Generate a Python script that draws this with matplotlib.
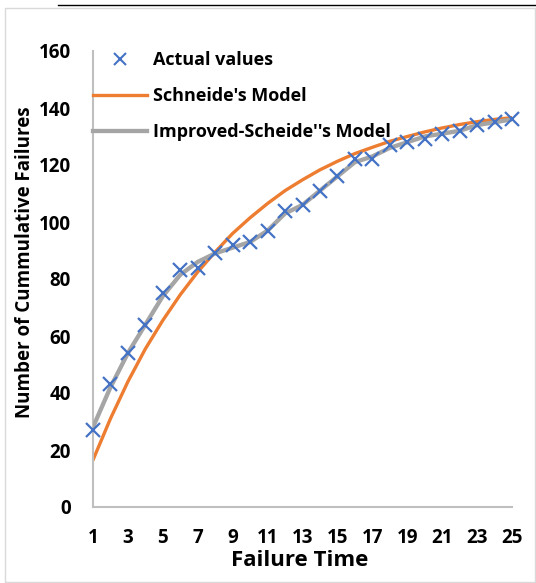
import matplotlib
matplotlib.use("Agg")
import matplotlib.pyplot as plt
from matplotlib.lines import Line2D
from matplotlib.patches import Rectangle

plt.rcParams['font.family'] = ['Open Sans', 'DejaVu Sans']

failure_time = list(range(1, 26))
actual_values = [27, 43, 54, 64, 75, 83, 84, 89, 92, 93, 97, 104, 106, 111, 116,
                 122, 122, 127, 128, 129, 131, 132, 134, 135, 136]
schneide_model = [16.5, 31, 44, 55.5, 65.5, 74.5, 82.5, 89.5, 96, 101.5, 106.5, 111,
                  114.8, 118.3, 121.3, 124, 126.2, 128.3, 130, 131.6, 133, 134.2,
                  135.2, 136, 136.6]
improved_model = [28, 42, 54, 64, 74, 81.5, 86, 89, 91, 93, 97, 103, 106, 111, 116,
                  121, 123, 126, 128, 130, 131, 132, 134, 135, 136]
x_ticks = list(range(1, 26, 2))
y_ticks = list(range(0, 161, 20))

fig = plt.figure(figsize=(5.36, 5.83), dpi=100)
ax = fig.add_axes([93/536, 76/583, 419/536, 456/583])

ax.plot(failure_time, schneide_model, color='#ED7D31', lw=2.4,
        solid_capstyle='round', label="Schneide's Model", zorder=2)
ax.plot(failure_time, improved_model, color='#A5A5A5', lw=3.1,
        solid_capstyle='round', label="Improved-Scheide''s Model", zorder=3)
ax.plot(failure_time, actual_values, linestyle='none', marker='x', markersize=10.5,
        markeredgewidth=1.6, color='#4472C4', label='Actual values', zorder=4,
        clip_on=False)

ax.set_xlim(1, 25)
ax.set_ylim(0, 160)
ax.set_xticks(x_ticks)
ax.set_yticks(y_ticks)
ax.tick_params(length=0, labelsize=13.5)
ax.tick_params(axis='x', pad=15)
ax.tick_params(axis='y', pad=16)
for lab in ax.get_xticklabels() + ax.get_yticklabels():
    lab.set_fontweight('bold')
for s in ['top', 'right']:
    ax.spines[s].set_visible(False)
for s in ['left', 'bottom']:
    ax.spines[s].set_color('#BFBFBF')
    ax.spines[s].set_linewidth(1.5)

ax.set_xlabel('Failure Time', fontsize=16, fontweight='bold')
ax.xaxis.set_label_coords(207/419, -(570 - 507 - 4) / 456)
ax.xaxis.label.set_va('baseline')
ax.set_ylabel('Number of Cummulative Failures', fontsize=13.5, fontweight='bold')
ax.yaxis.set_label_coords(-(93 - 25) / 419, (507 - 262) / 456)
ax.yaxis.label.set_va('center')

handles = [
    Line2D([], [], linestyle='none', marker='x', markersize=9, markeredgewidth=1.5, color='#4472C4'),
    Line2D([], [], color='#ED7D31', lw=2.4),
    Line2D([], [], color='#A5A5A5', lw=3.1),
]
labels = ['Actual values', "Schneide's Model", "Improved-Scheide''s Model"]
leg = ax.legend(handles, labels, loc='upper left', bbox_to_anchor=(0.0, 1.0),
                frameon=False, prop={'weight': 'bold', 'size': 13},
                handlelength=3.0, handletextpad=0.3, labelspacing=1.0,
                borderaxespad=0, borderpad=0)

# chart border and document line
fig.patches.append(Rectangle((5/536, 0.002), 530/536, (583-8)/583 - 0.002,
                             transform=fig.transFigure, fill=False,
                             edgecolor='#D9D9D9', lw=1))
fig.lines.append(Line2D([58/536, 1], [1 - 5/583, 1 - 5/583],
                        transform=fig.transFigure, color='black', lw=1))

fig.savefig('out.png', dpi=100)
